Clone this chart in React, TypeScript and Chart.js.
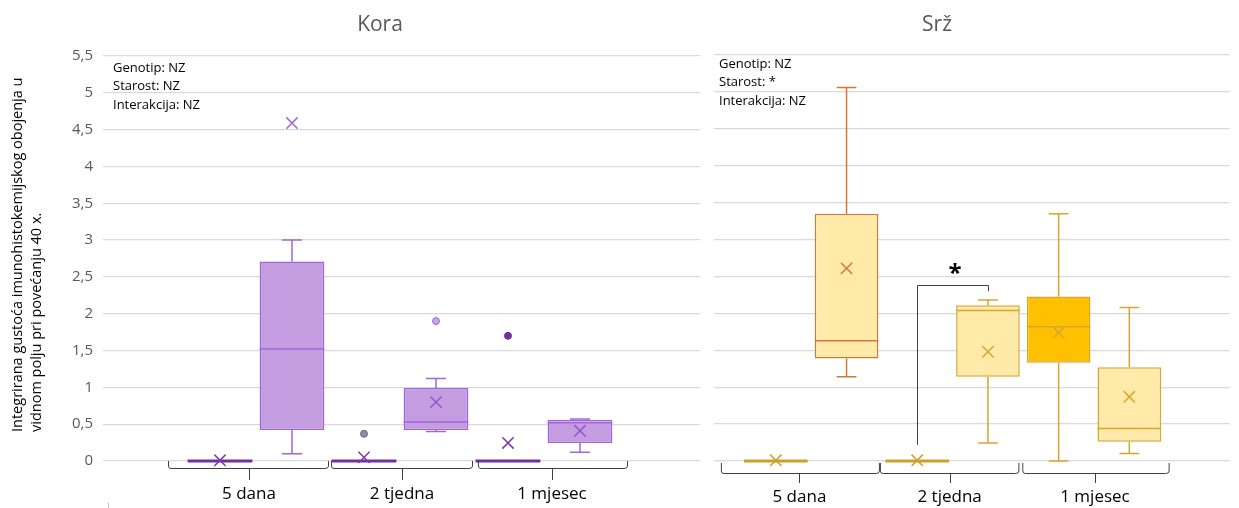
import React, { useEffect, useRef } from 'react';
import { Chart, registerables } from 'chart.js';

Chart.register(...registerables);

const FONT = "'Open Sans', 'Noto Sans', sans-serif";

// ---------- data ----------
const categories = ['5 dana', '2 tjedna', '1 mjesec'];
const yTickLabels = ['0', '0,5', '1', '1,5', '2', '2,5', '3', '3,5', '4', '4,5', '5', '5,5'];
const yAxisTitle = ['Integrirana gustoća imunohistokemijskog obojenja u', 'vidnom polju pri povećanju 40 x.'];

// box order: 5 dana (A, B), 2 tjedna (A, B), 1 mjesec (A, B)
const koraMin = [0, 0.10, 0, 0.40, 0, 0.12];
const koraQ1 = [0, 0.42, 0, 0.42, 0, 0.245];
const koraMedian = [0, 1.52, 0, 0.53, 0, 0.52];
const koraQ3 = [0, 2.71, 0, 0.99, 0, 0.56];
const koraMax = [0, 3.0, 0, 1.12, 0, 0.57];
const koraMean = [0.01, 4.59, 0.05, 0.8, 0.245, 0.41];
const koraOutliers = [[], [], [0.37], [1.9], [1.7], []];
const koraStats = ['Genotip: NZ', 'Starost: NZ', 'Interakcija: NZ'];

const srzMin = [0, 1.14, 0, 0.245, 0, 0.1];
const srzQ1 = [0, 1.39, 0, 1.14, 1.33, 0.26];
const srzMedian = [0, 1.63, 0, 2.04, 1.82, 0.44];
const srzQ3 = [0, 3.35, 0, 2.11, 2.23, 1.27];
const srzMax = [0, 5.06, 0, 2.18, 3.35, 2.08];
const srzMean = [0.01, 2.61, 0.01, 1.48, 1.74, 0.87];
const srzOutliers = [[], [], [], [], [], []];
const srzStats = ['Genotip: NZ', 'Starost: *', 'Interakcija: NZ'];

// significance: between box 2 and box 3 (2 tjedna)
const srzSigBoxes = [2, 3];
const srzSigLevels = [0.22, 2.38, 2.3, 2.53]; // left foot, top, right foot, label
const srzSigLabel = '*';

// ---------- panel component ----------
type PanelDef = {
  title: string;
  canvasLeft: number;
  width: number;
  height: number;
  yAxisWidth: number;
  rightAxisWidth: number;
  titlePadTop: number;
  titlePadBottom: number;
  xAxisHeight: number;
  labelPadding: number;
  xMin: number;
  xMax: number;
  showYTicks: boolean;
  brackets: number[][]; // [start, tick, end] in scale units
  bracketY: number[]; // offsets below chart bottom: top, line, tick end
  statsOffset: number[];
  stats: string[];
  min: number[]; q1: number[]; median: number[]; q3: number[]; max: number[]; mean: number[];
  outliers: number[][];
  fill: string[]; border: string[]; meanColor: string[];
  outFill: string[]; outBorder: string[];
  yTitle?: boolean;
  sig?: boolean;
  mark?: boolean;
};

function makePlugin(p: PanelDef) {
  return {
    id: 'boxExtras',
    afterDatasetDraw(chart: any, args: any) {
      if (args.index !== 0) return;
      const ctx = chart.ctx;
      const y = chart.scales.y;
      const meta = chart.getDatasetMeta(0);
      meta.data.forEach((bar: any, i: number) => {
        const x = bar.x;
        const w = bar.width;
        const cap = w * 0.155;
        ctx.save();
        ctx.strokeStyle = p.border[i];
        ctx.lineWidth = 1.5;
        const pQ1 = y.getPixelForValue(p.q1[i]);
        const pQ3 = y.getPixelForValue(p.q3[i]);
        const pMin = y.getPixelForValue(p.min[i]);
        const pMax = y.getPixelForValue(p.max[i]);
        ctx.beginPath();
        if (p.max[i] > p.q3[i]) {
          ctx.moveTo(x, pQ3); ctx.lineTo(x, pMax);
          ctx.moveTo(x - cap, pMax); ctx.lineTo(x + cap, pMax);
        }
        if (p.min[i] < p.q1[i]) {
          ctx.moveTo(x, pQ1); ctx.lineTo(x, pMin);
          ctx.moveTo(x - cap, pMin); ctx.lineTo(x + cap, pMin);
        }
        ctx.stroke();
        const flat = p.q1[i] === p.q3[i];
        ctx.lineWidth = flat ? 3 : 1.5;
        const pMed = y.getPixelForValue(p.median[i]);
        ctx.beginPath();
        ctx.moveTo(x - w / 2, pMed); ctx.lineTo(x + w / 2, pMed);
        ctx.stroke();
        ctx.restore();
      });
    },
    afterDraw(chart: any) {
      const ctx = chart.ctx;
      const xs = chart.scales.x;
      const ys = chart.scales.y;
      const area = chart.chartArea;
      ctx.save();
      // brackets under categories
      ctx.strokeStyle = '#404040';
      ctx.lineWidth = 1;
      const yTop = area.bottom + p.bracketY[0];
      const yLine = area.bottom + p.bracketY[1];
      const yTick = area.bottom + p.bracketY[2];
      p.brackets.forEach((b) => {
        const x1 = xs.getPixelForValue(b[0]);
        const xc = xs.getPixelForValue(b[1]);
        const x2 = xs.getPixelForValue(b[2]);
        ctx.beginPath();
        ctx.moveTo(x1 + 0.5, yTop);
        ctx.lineTo(x1 + 0.5, yLine - 2);
        ctx.quadraticCurveTo(x1 + 0.5, yLine + 0.5, x1 + 3, yLine + 0.5);
        ctx.lineTo(x2 - 3, yLine + 0.5);
        ctx.quadraticCurveTo(x2 + 0.5, yLine + 0.5, x2 + 0.5, yLine - 2);
        ctx.lineTo(x2 + 0.5, yTop);
        ctx.moveTo(Math.round(xc) + 0.5, yLine + 0.5);
        ctx.lineTo(Math.round(xc) + 0.5, yTick);
        ctx.stroke();
      });
      // stats text
      ctx.fillStyle = '#000000';
      ctx.font = `13px ${FONT}`;
      ctx.textAlign = 'left';
      ctx.textBaseline = 'middle';
      p.stats.forEach((s, i) => {
        ctx.fillText(s, area.left + p.statsOffset[0], area.top + p.statsOffset[1] + i * 18.5);
      });
      // y axis title
      if (p.yTitle) {
        ctx.font = `14.5px ${FONT}`;
        ctx.fillStyle = '#000000';
        yAxisTitle.forEach((line, i) => {
          ctx.save();
          ctx.translate(18 + i * 19, 432);
          ctx.rotate(-Math.PI / 2);
          ctx.textAlign = 'left';
          ctx.textBaseline = 'middle';
          ctx.fillText(line, 0, 0);
          ctx.restore();
        });
      }
      if (p.mark) {
        ctx.strokeStyle = '#bfbfbf';
        ctx.beginPath();
        ctx.moveTo(108.5, 503);
        ctx.lineTo(108.5, 508);
        ctx.stroke();
      }
      // significance bracket
      if (p.sig) {
        const xa = Math.round(xs.getPixelForValue(srzSigBoxes[0])) + 0.5;
        const xb = Math.round(xs.getPixelForValue(srzSigBoxes[1])) + 0.5;
        const ya = ys.getPixelForValue(srzSigLevels[0]);
        const yt = Math.round(ys.getPixelForValue(srzSigLevels[1])) + 0.5;
        const yb = ys.getPixelForValue(srzSigLevels[2]);
        ctx.strokeStyle = '#404040';
        ctx.lineWidth = 1;
        ctx.beginPath();
        ctx.moveTo(xa, ya); ctx.lineTo(xa, yt); ctx.lineTo(xb, yt); ctx.lineTo(xb, yb);
        ctx.stroke();
        ctx.fillStyle = '#000000';
        ctx.font = `bold 24px ${FONT}`;
        ctx.textAlign = 'center';
        ctx.textBaseline = 'middle';
        ctx.fillText(srzSigLabel, (xa + xb) / 2 + 2, ys.getPixelForValue(srzSigLevels[3]));
      }
      ctx.restore();
    },
  };
}

function BoxPanel({ p }: { p: PanelDef }) {
  const ref = useRef<HTMLCanvasElement>(null);
  useEffect(() => {
    if (!ref.current) return;
    const barData = p.q1.map((q, i) => ({ x: i, y: [q, p.q3[i]] }));
    const meanData = p.mean.map((m, i) => ({ x: i, y: m }));
    const outData: any[] = [];
    const outFill: string[] = [];
    const outBorder: string[] = [];
    p.outliers.forEach((arr, i) =>
      arr.forEach((v) => {
        outData.push({ x: i, y: v });
        outFill.push(p.outFill[i]);
        outBorder.push(p.outBorder[i]);
      })
    );
    const tickPositions = p.brackets.map((b) => b[1]);
    const scales: any = {
      x: {
        type: 'linear',
        min: p.xMin,
        max: p.xMax,
        offset: false,
        grid: { display: false, drawTicks: false },
        border: { display: false },
        afterBuildTicks: (axis: any) => {
          axis.ticks = tickPositions.map((v) => ({ value: v }));
        },
        afterFit: (axis: any) => {
          axis.height = p.xAxisHeight;
        },
        ticks: {
          autoSkip: false,
          maxRotation: 0,
          padding: p.labelPadding,
          color: '#000000',
          font: { family: FONT, size: 17 },
          callback: (_v: any, i: number) => categories[i],
        },
      },
      y: {
        type: 'linear',
        min: 0,
        max: 5.5,
        grid: { color: '#d9d9d9', lineWidth: 1.3, drawTicks: false },
        border: { display: false },
        afterFit: (axis: any) => {
          axis.width = p.yAxisWidth;
        },
        ticks: {
          display: p.showYTicks,
          stepSize: 0.5,
          padding: 10,
          color: '#595959',
          font: { family: FONT, size: 15 },
          callback: (_v: any, i: number) => yTickLabels[i],
        },
      },
    };
    if (p.rightAxisWidth > 0) {
      scales.yR = {
        type: 'linear',
        position: 'right',
        display: true,
        grid: { display: false, drawTicks: false },
        border: { display: false },
        ticks: { display: false },
        afterFit: (axis: any) => {
          axis.width = p.rightAxisWidth;
        },
      };
    }
    const chart = new Chart(ref.current, {
      type: 'bar',
      data: {
        datasets: [
          {
            type: 'bar',
            data: barData as any,
            backgroundColor: p.fill,
            borderColor: p.border,
            borderWidth: 1.5,
            borderSkipped: false,
            categoryPercentage: 1,
            barPercentage: 0.9,
            order: 3,
          } as any,
          {
            type: 'scatter',
            data: outData,
            pointStyle: 'circle',
            pointRadius: 3.5,
            pointBackgroundColor: outFill,
            pointBorderColor: outBorder,
            pointBorderWidth: 1,
            clip: false,
            order: 2,
          } as any,
          {
            type: 'scatter',
            data: meanData,
            pointStyle: 'crossRot',
            pointRadius: 8,
            pointBorderColor: p.meanColor,
            pointBackgroundColor: p.meanColor,
            pointBorderWidth: 1.5,
            clip: false,
            order: 1,
          } as any,
        ],
      },
      options: {
        responsive: false,
        animation: false,
        events: [],
        layout: { padding: 0 },
        scales,
        plugins: {
          legend: { display: false },
          tooltip: { enabled: false },
          title: {
            display: true,
            text: p.title,
            color: '#595959',
            font: { family: FONT, size: 21, weight: 'normal' as any },
            padding: { top: p.titlePadTop, bottom: p.titlePadBottom },
          },
        },
      },
      plugins: [makePlugin(p) as any],
    });
    return () => chart.destroy();
  }, []);
  return (
    <canvas
      ref={ref}
      width={p.width}
      height={p.height}
      style={{ position: 'absolute', left: p.canvasLeft, top: 0, width: p.width, height: p.height }}
    />
  );
}

const purpleDark = '#7030a0';
const purpleBorder = '#a366d9';
const purpleFill = '#c49de0';
const gold = '#c9a227';
const goldBorder = '#d6a630';
const orange = '#d4773a';
const yellowFill = '#ffeaa9';

const koraPanel: PanelDef = {
  title: 'Kora',
  canvasLeft: 0,
  width: 760,
  height: 508,
  yAxisWidth: 103,
  rightAxisWidth: 60,
  titlePadTop: 12.4,
  titlePadBottom: 18.4,
  xAxisHeight: 47,
  labelPadding: 23.3,
  xMin: -1.625,
  xMax: 6.667,
  showYTicks: true,
  brackets: [
    [-0.722, 0.403, 1.5],
    [1.542, 2.528, 3.5],
    [3.583, 4.611, 5.653],
  ],
  bracketY: [0, 7, 19],
  statsOffset: [10, 12],
  stats: koraStats,
  min: koraMin, q1: koraQ1, median: koraMedian, q3: koraQ3, max: koraMax, mean: koraMean,
  outliers: koraOutliers,
  fill: [purpleDark, purpleFill, purpleDark, purpleFill, purpleDark, purpleFill],
  border: [purpleDark, purpleBorder, purpleDark, purpleBorder, purpleDark, purpleBorder],
  meanColor: ['#7a3ab0', purpleBorder, '#7a3ab0', '#9555cf', '#7a3ab0', '#9555cf'],
  outFill: [purpleDark, purpleFill, '#8f8f96', '#c9a3e6', purpleDark, purpleFill],
  outBorder: [purpleDark, purpleBorder, '#7b5a96', purpleBorder, purpleDark, purpleBorder],
  yTitle: true,
  mark: true,
};

const srzPanel: PanelDef = {
  title: 'Srž',
  canvasLeft: 635,
  width: 604,
  height: 508,
  yAxisWidth: 79,
  rightAxisWidth: 0,
  titlePadTop: 12.4,
  titlePadBottom: 17.4,
  xAxisHeight: 47,
  labelPadding: 25.8,
  xMin: -0.875,
  xMax: 6.417,
  showYTicks: false,
  brackets: [
    [-0.778, 0.333, 1.458],
    [1.472, 2.458, 3.431],
    [3.486, 4.514, 5.556],
  ],
  bracketY: [2, 12, 22],
  statsOffset: [5, 9],
  stats: srzStats,
  min: srzMin, q1: srzQ1, median: srzMedian, q3: srzQ3, max: srzMax, mean: srzMean,
  outliers: srzOutliers,
  fill: [gold, yellowFill, gold, yellowFill, '#ffc000', yellowFill],
  border: [gold, orange, gold, goldBorder, goldBorder, goldBorder],
  meanColor: [gold, orange, gold, goldBorder, goldBorder, goldBorder],
  outFill: [gold, yellowFill, gold, yellowFill, '#ffc000', yellowFill],
  outBorder: [gold, orange, gold, goldBorder, goldBorder, goldBorder],
  sig: true,
};

export default function App() {
  return (
    <div style={{ position: 'absolute', left: 0, top: 0, width: 1239, height: 508, background: '#ffffff', overflow: 'hidden' }}>
      <BoxPanel p={koraPanel} />
      <BoxPanel p={srzPanel} />
    </div>
  );
}
